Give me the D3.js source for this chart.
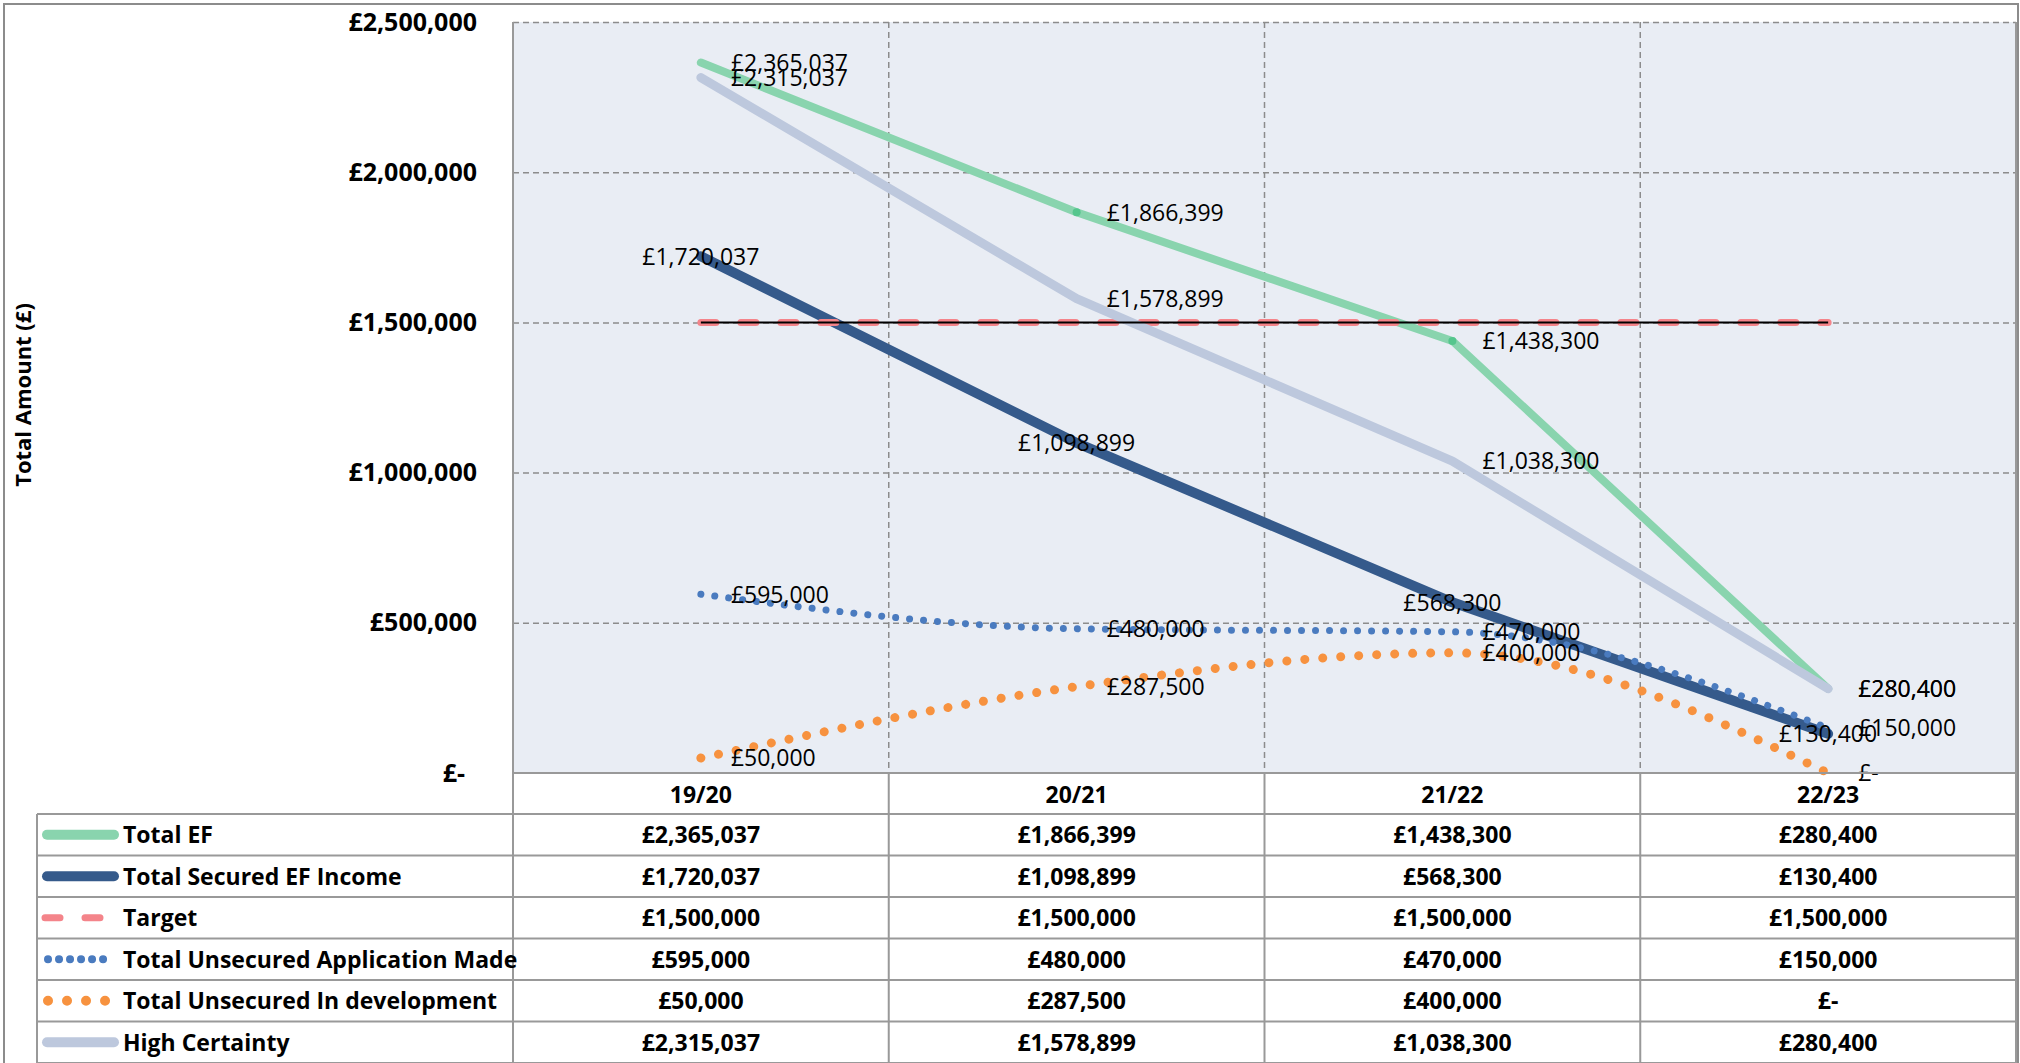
<!DOCTYPE html>
<html>
<head>
<meta charset="utf-8">
<script src="https://cdn.jsdelivr.net/npm/d3@7"></script>
<style>
  html, body { margin: 0; padding: 0; background: #fff; }
  svg { display: block; font-family: "Open Sans", sans-serif; }
</style>
</head>
<body>
<div id="chart"></div>
<script>
// chart data
const categories = ['19/20', '20/21', '21/22', '22/23'];
const totalEF = [2365037, 1866399, 1438300, 280400];
const totalSecured = [1720037, 1098899, 568300, 130400];
const target = [1500000, 1500000, 1500000, 1500000];
const unsecuredApp = [595000, 480000, 470000, 150000];
const unsecuredDev = [50000, 287500, 400000, 0];
const highCertainty = [2315037, 1578899, 1038300, 280400];
const yTicks = [0, 500000, 1000000, 1500000, 2000000, 2500000];

const W = 2020, H = 1063;
const plot = { left: 513, right: 2016, top: 22, bottom: 773 };
const tableLeft = 37;
const rowH = (H - 814) / 6;

const money = v => v === 0 ? '£-' : '£' + d3.format(',')(v);

// series in Excel's draw order
const series = [
  { name: 'Total EF', values: totalEF, color: '#89d4ae', width: 8, label: 'right', marker: '#55c68d' },
  { name: 'Total Secured EF Income', values: totalSecured, color: '#355a8b', width: 10, label: 'center' },
  { name: 'Target', values: target, color: '#f4848a', width: 7, dash: '15 25', label: null },
  { name: 'Total Unsecured Application Made', values: unsecuredApp, color: '#4a7bbf', width: 7, dash: '0.01 14', smooth: true, label: 'right' },
  { name: 'Total Unsecured In development', values: unsecuredDev, color: '#f7923f', width: 9, dash: '0.01 18', smooth: true, label: 'right' },
  { name: 'High Certainty', values: highCertainty, color: '#bdc8dd', width: 9, label: 'right' }
];

const svg = d3.select('#chart').append('svg')
  .attr('width', W)
  .attr('height', H);

const x = d3.scaleBand()
  .domain(categories)
  .range([plot.left, plot.right]);

const y = d3.scaleLinear()
  .domain([0, 2500000])
  .range([plot.bottom, plot.top]);

const cx = c => x(c) + x.bandwidth() / 2;

// plot background
svg.append('rect')
  .attr('x', plot.left)
  .attr('y', plot.top)
  .attr('width', plot.right - plot.left)
  .attr('height', plot.bottom - plot.top)
  .attr('fill', '#e9edf4');

// horizontal gridlines + y labels
const yAxis = d3.axisLeft(y)
  .tickValues(yTicks)
  .tickSize(-(plot.right - plot.left))
  .tickPadding(36)
  .tickFormat(money);

const yg = svg.append('g')
  .attr('transform', `translate(${plot.left},0)`)
  .call(yAxis);
yg.select('.domain').remove();
yg.selectAll('.tick line')
  .attr('stroke', (d) => d === 0 ? 'none' : '#8c8c8c')
  .attr('stroke-width', 1.5)
  .attr('stroke-dasharray', '6 4');
yg.selectAll('.tick text')
  .attr('font-family', '"Open Sans", sans-serif')
  .attr('font-size', 25)
  .attr('font-weight', 700)
  .attr('fill', '#000')
  .attr('dx', (d) => d === 0 ? -12 : 0);

// vertical gridlines between categories
svg.append('g')
  .selectAll('line')
  .data(categories.slice(1))
  .enter()
  .append('line')
  .attr('x1', d => x(d))
  .attr('x2', d => x(d))
  .attr('y1', plot.top)
  .attr('y2', plot.bottom)
  .attr('stroke', '#8c8c8c')
  .attr('stroke-width', 1.5)
  .attr('stroke-dasharray', '6 4');

// y axis title
svg.append('text')
  .attr('transform', `translate(31,395) rotate(-90)`)
  .attr('text-anchor', 'middle')
  .attr('font-size', 22)
  .attr('font-weight', 700)
  .text('Total Amount (£)');

// series lines
const lineGen = d3.line()
  .x((d, i) => cx(categories[i]))
  .y(d => y(d));

const linesG = svg.append('g');
series.forEach(s => {
  linesG.append('path')
    .datum(s.values)
    .attr('d', lineGen.curve(s.smooth ? d3.curveMonotoneX : d3.curveLinear))
    .attr('fill', 'none')
    .attr('stroke', s.color)
    .attr('stroke-width', s.width)
    .attr('stroke-linecap', 'round')
    .attr('stroke-linejoin', 'round')
    .attr('stroke-dasharray', s.dash || null);

  if (s.marker) {
    linesG.append('g')
      .selectAll('circle')
      .data(s.values.slice(1, 3))
      .enter()
      .append('circle')
      .attr('cx', (d, i) => cx(categories[i + 1]))
      .attr('cy', d => y(d))
      .attr('r', 4)
      .attr('fill', s.marker);
  }
});

// thin black line over the target
linesG.append('path')
  .datum(target)
  .attr('d', lineGen.curve(d3.curveLinear))
  .attr('fill', 'none')
  .attr('stroke', '#000')
  .attr('stroke-width', 2);

// data labels
const labelsG = svg.append('g')
  .attr('font-size', 23)
  .attr('fill', '#000');
series.filter(s => s.label).forEach(s => {
  labelsG.append('g')
    .selectAll('text')
    .data(s.values)
    .enter()
    .append('text')
    .attr('x', (d, i) => cx(categories[i]) + (s.label === 'right' ? 30 : 0))
    .attr('y', d => y(d))
    .attr('dy', '0.36em')
    .attr('text-anchor', s.label === 'right' ? 'start' : 'middle')
    .text(money);
});

// data table
const tableG = svg.append('g')
  .attr('stroke', '#999')
  .attr('stroke-width', 2);

// horizontal rules
tableG.append('line')
  .attr('x1', plot.left).attr('x2', plot.right)
  .attr('y1', plot.bottom).attr('y2', plot.bottom);
d3.range(7).forEach(i => {
  tableG.append('line')
    .attr('x1', tableLeft).attr('x2', plot.right)
    .attr('y1', 814 + i * rowH).attr('y2', 814 + i * rowH);
});

// vertical rules: plot edges run full height, column rules only in the table
tableG.append('line')
  .attr('x1', tableLeft).attr('x2', tableLeft)
  .attr('y1', 814).attr('y2', H);
categories.forEach((c, i) => {
  tableG.append('line')
    .attr('x1', x(c)).attr('x2', x(c))
    .attr('y1', i === 0 ? plot.top : plot.bottom).attr('y2', H);
});
tableG.append('line')
  .attr('x1', plot.right).attr('x2', plot.right)
  .attr('y1', plot.top).attr('y2', H);

const textG = svg.append('g')
  .attr('font-size', 23)
  .attr('font-weight', 700)
  .attr('fill', '#000');

// header
textG.selectAll('text.cat')
  .data(categories)
  .enter()
  .append('text')
  .attr('class', 'cat')
  .attr('x', d => cx(d))
  .attr('y', 795)
  .attr('dy', '0.36em')
  .attr('text-anchor', 'middle')
  .text(d => d);

// rows
series.forEach((s, r) => {
  const rowY = 814 + r * rowH + rowH / 2;

  const icon = svg.append('line')
    .attr('x1', 47).attr('x2', 114)
    .attr('y1', rowY).attr('y2', rowY)
    .attr('stroke', s.color)
    .attr('stroke-width', s.name === 'Target' ? 7 : 10)
    .attr('stroke-linecap', 'round');
  if (s.name === 'Target') icon.attr('x1', 45).attr('x2', 118).attr('stroke-dasharray', '15 25');
  if (s.smooth) {
    icon.attr('x1', 48).attr('x2', 114)
      .attr('stroke-width', s.width + 1)
      .attr('stroke-dasharray', s.name.includes('Application') ? '0.01 11' : '0.01 19');
  }

  textG.append('text')
    .attr('x', 123)
    .attr('y', rowY)
    .attr('dy', '0.36em')
    .text(s.name);

  textG.append('g')
    .selectAll('text')
    .data(s.values)
    .enter()
    .append('text')
    .attr('x', (d, i) => cx(categories[i]))
    .attr('y', rowY)
    .attr('dy', '0.36em')
    .attr('text-anchor', 'middle')
    .text(money);
});

// outer frame
svg.append('rect')
  .attr('x', 4)
  .attr('y', 4)
  .attr('width', W - 6)
  .attr('height', H + 10)
  .attr('fill', 'none')
  .attr('stroke', '#8c8c8c')
  .attr('stroke-width', 2);
</script>
</body>
</html>
